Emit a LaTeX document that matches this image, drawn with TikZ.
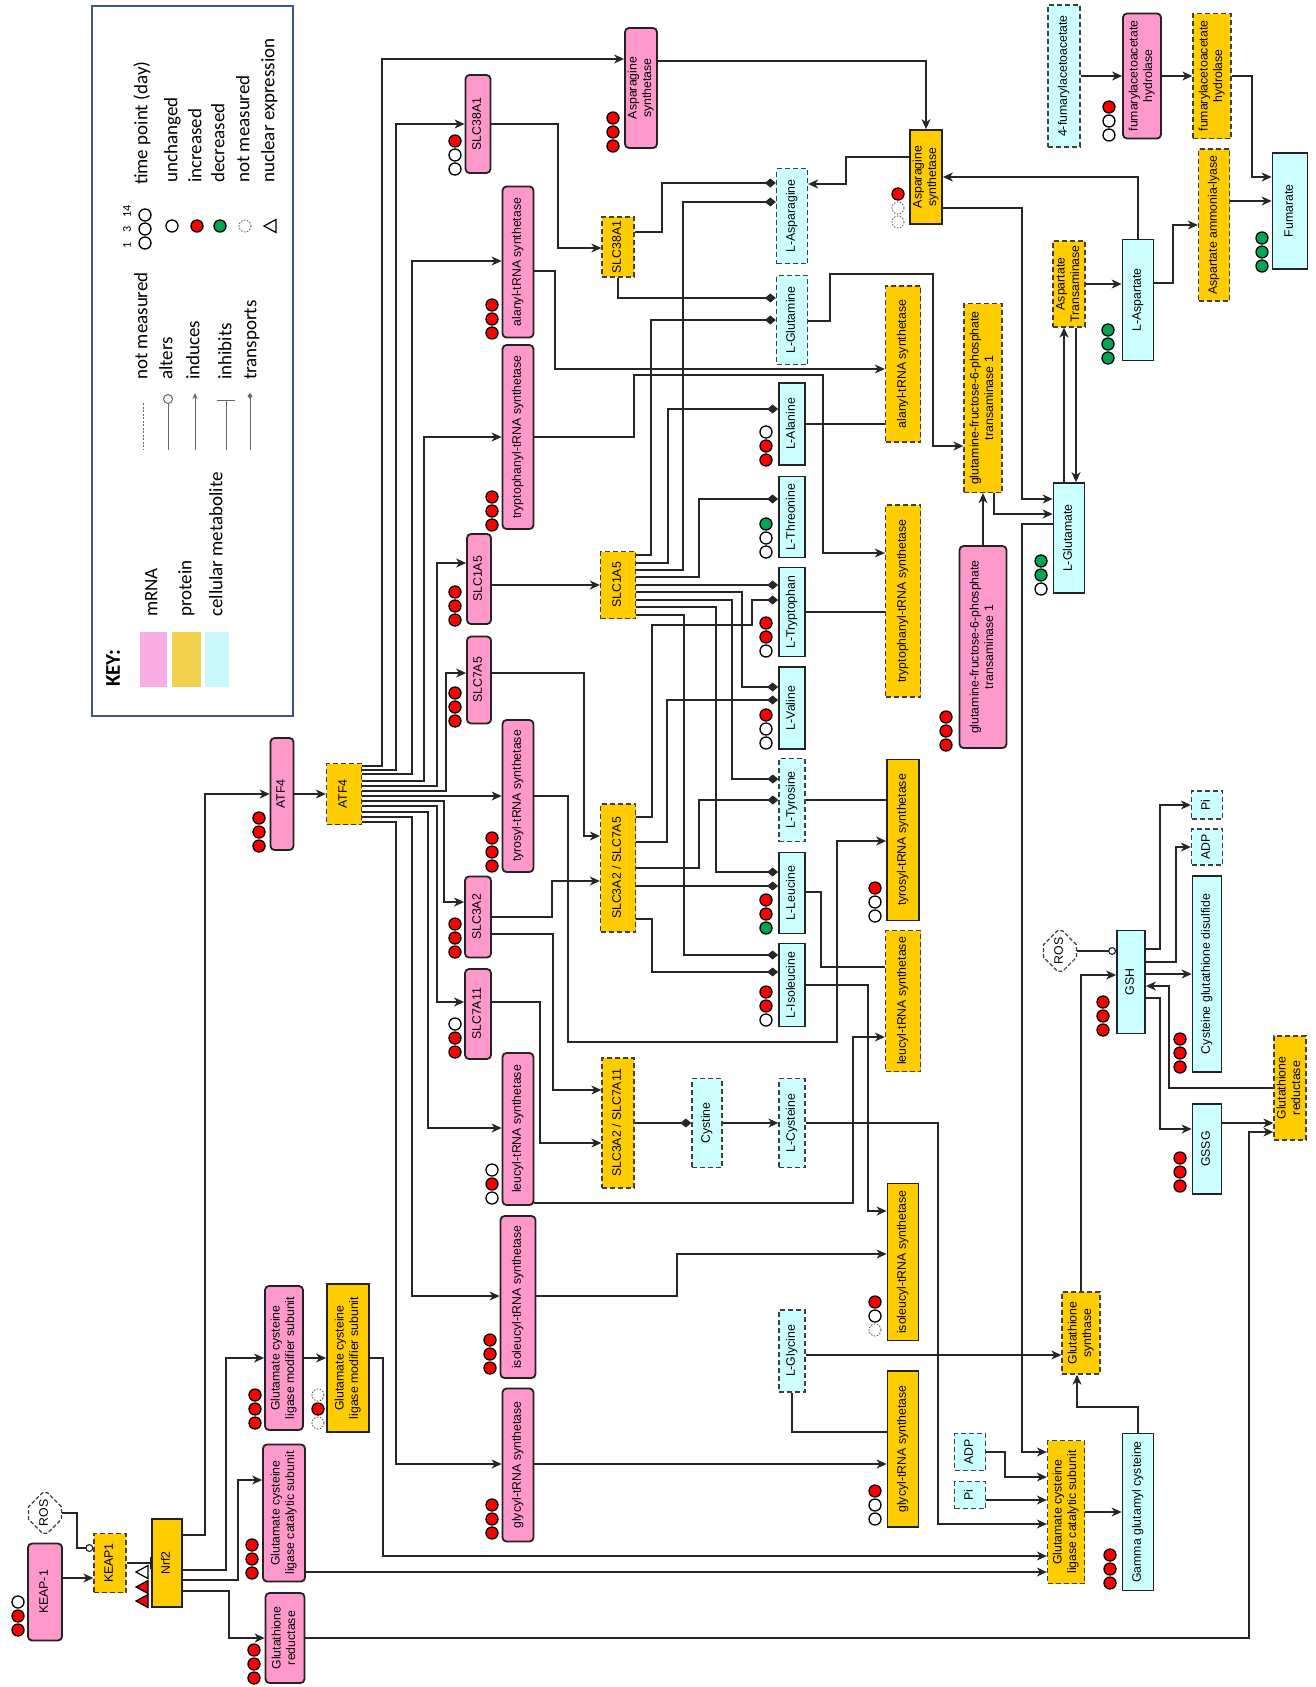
\documentclass[tikz,border=0pt]{standalone}
\usepackage{fontspec}
\setmainfont{Liberation Sans}
\newfontfamily\keyfont{Carlito}
\usetikzlibrary{arrows.meta,shapes.misc,shapes.geometric}
\definecolor{pk}{RGB}{255,153,204}
\definecolor{yl}{RGB}{255,204,0}
\definecolor{cy}{RGB}{204,255,255}
\definecolor{edgec}{RGB}{35,35,35}
\definecolor{keyblue}{RGB}{59,89,133}
\definecolor{dred}{RGB}{255,0,0}
\definecolor{dgreen}{RGB}{0,166,81}
\definecolor{swpk}{RGB}{248,174,226}
\definecolor{swyl}{RGB}{243,210,80}
\definecolor{swcy}{RGB}{200,248,248}
\newcommand\rtxt[1]{\rotatebox{90}{\begin{tabular}{@{}c@{}}#1\end{tabular}}}
\newcommand\tpt[5]{%
 \draw[dot#3] (#1,#2-14) circle[radius=6pt];
 \draw[dot#4] (#1,#2) circle[radius=6pt];
 \draw[dot#5] (#1,#2+14) circle[radius=6pt];}
\newcommand\ntri[3]{\filldraw[fill=#3, draw=black, line width=1.2pt, line join=miter] (#1-6,#2) -- (#1+6,#2-6.5) -- (#1+6,#2+6.5) -- cycle;}
\tikzset{
 box/.style={inner sep=0pt, draw=edgec, line width=1.8pt, font=\fontsize{12.3}{14.5}\selectfont},
 mrna/.style={box, fill=pk, rounded corners=4pt},
 prot/.style={box, fill=yl},
 protd/.style={box, fill=yl, dash pattern=on 5pt off 3pt, line width=1.3pt, draw=black!75},
 met/.style={box, fill=cy},
 metd/.style={box, fill=cy, dash pattern=on 5pt off 3pt, line width=1.3pt, draw=black!75},
 ros/.style={chamfered rectangle, chamfered rectangle xsep=7pt, chamfered rectangle ysep=7pt,
   draw=black!75, dash pattern=on 4pt off 2pt, line width=1.2pt, fill=white, inner sep=0pt,
   minimum width=33pt, minimum height=40pt, font=\fontsize{12.3}{14.5}\selectfont},
 dotr/.style={fill=dred, draw=black, line width=1.3pt},
 dotg/.style={fill=dgreen, draw=black, line width=1.3pt},
 doto/.style={fill=white, draw=black, line width=1.3pt},
 dotd/.style={fill=white, draw=black!70, line width=0.8pt, dash pattern=on 1.5pt off 1.5pt},
 conn/.style={line width=1.15pt, draw=black!85},
 ind/.style={conn, -{Stealth[length=10pt,width=9pt,inset=3pt]}},
 tra/.style={conn, -{Diamond[length=11pt,width=9pt]}},
 inh/.style={conn, -{Bar[width=12pt,line width=1.3pt]}},
 alt/.style={conn, -{Circle[open,length=8pt,width=8pt]}},
 keytxt/.style={inner sep=0pt, anchor=south, font=\keyfont\fontsize{19}{22}\selectfont},
}
\begin{document}
\begin{tikzpicture}[x=1pt,y=-1pt]
\useasboundingbox (0,0) rectangle (1316,1687);
\fill[white] (0,0) rectangle (1316,1687);

% ---------------- legend ----------------
\node[draw=keyblue, line width=1.5pt, minimum width=201pt, minimum height=710pt, inner sep=0pt] (keybox) at (192.5,361) {};
\node[inner sep=0pt, anchor=south, font=\keyfont\bfseries\fontsize{21}{24}\selectfont] (keyt) at (115,687) {\rtxt{KEY:}};
\fill[swpk] (140,632) rectangle (167,687);
\fill[swyl] (172,632) rectangle (201,687);
\fill[swcy] (205,632) rectangle (229,687);
\node[keytxt] (kmrna) at (153,617) {\rtxt{mRNA}};
\node[keytxt] (kprot) at (187,617) {\rtxt{protein}};
\node[keytxt] (kmet) at (218,617) {\rtxt{cellular metabolite}};
\node[keytxt] (knm) at (143,380) {\rtxt{not measured}};
\node[keytxt] (kalt) at (168,380) {\rtxt{alters}};
\node[keytxt] (kind) at (195,380) {\rtxt{induces}};
\node[keytxt] (kinh) at (227,380) {\rtxt{inhibits}};
\node[keytxt] (ktra) at (252,380) {\rtxt{transports}};
\draw[black!60, line width=1pt, dash pattern=on 2pt off 1.5pt] (143,403) -- (143,450);
\draw[black!60, line width=1pt, -{Circle[open,length=10pt,width=10pt]}] (168,450) -- (168,394);
\draw[black!60, line width=1pt, -{Stealth[length=6pt,width=5pt]}] (195,450) -- (195,393);
\draw[black!60, line width=1pt, -{Bar[width=18pt]}] (226,450) -- (226,400);
\draw[black!60, line width=1pt, -{Diamond[length=6pt,width=5pt]}] (250,450) -- (250,393);
\node[keytxt] (ktp) at (143,185) {\rtxt{time point (day)}};
\node[keytxt] (kun) at (173,183) {\rtxt{unchanged}};
\node[keytxt] (kinc) at (197,183) {\rtxt{increased}};
\node[keytxt] (kdec) at (220,183) {\rtxt{decreased}};
\node[keytxt] (knm2) at (245,183) {\rtxt{not measured}};
\node[keytxt] (knuc) at (270,183) {\rtxt{nuclear expression}};
\tpt{145}{229}{o}{o}{o}
\node[inner sep=0pt, font=\keyfont\fontsize{12}{14}\selectfont] (kl1) at (127,245) {\rotatebox{90}{1}};
\node[inner sep=0pt, font=\keyfont\fontsize{12}{14}\selectfont] (kl3) at (127,229) {\rotatebox{90}{3}};
\node[inner sep=0pt, font=\keyfont\fontsize{12}{14}\selectfont] (kl14) at (127,211) {\rotatebox{90}{14}};
\draw[doto] (172,226) circle[radius=6pt];
\draw[dotr] (197,226) circle[radius=6pt];
\draw[dotg] (220,226) circle[radius=6pt];
\draw[dotd] (245,226) circle[radius=6pt];
\ntri{270}{226}{white}

% ---------------- mRNA ----------------
\node[mrna, minimum width=34pt, minimum height=97pt] (keapm) at (45,1592) {\rtxt{KEAP-1}};
\node[mrna, minimum width=23pt, minimum height=112pt] (atf4m) at (282,794) {\rtxt{ATF4}};
\node[mrna, minimum width=32pt, minimum height=120pt] (asnsm) at (641,88) {\rtxt{Asparagine\\synthetase}};
\node[mrna, minimum width=25pt, minimum height=98pt] (slc38m) at (478,124) {\rtxt{SLC38A1}};
\node[mrna, minimum width=31pt, minimum height=151pt] (alam) at (518,262) {\rtxt{alanyl-tRNA synthetase}};
\node[mrna, minimum width=31pt, minimum height=184pt] (trpm) at (518,437) {\rtxt{tryptophanyl-tRNA synthetase}};
\node[mrna, minimum width=24pt, minimum height=90pt] (slc1a5m) at (479,579) {\rtxt{SLC1A5}};
\node[mrna, minimum width=24pt, minimum height=87pt] (slc7a5m) at (479,680) {\rtxt{SLC7A5}};
\node[mrna, minimum width=31pt, minimum height=152pt] (tyrm) at (518,796) {\rtxt{tyrosyl-tRNA synthetase}};
\node[mrna, minimum width=26pt, minimum height=81pt] (slc3a2m) at (478,917) {\rtxt{SLC3A2}};
\node[mrna, minimum width=26pt, minimum height=90pt] (slc7a11m) at (478,1014) {\rtxt{SLC7A11}};
\node[mrna, minimum width=31pt, minimum height=152pt] (leum) at (518,1129) {\rtxt{leucyl-tRNA synthetase}};
\node[mrna, minimum width=35pt, minimum height=162pt] (ilem) at (518,1297) {\rtxt{isoleucyl-tRNA synthetase}};
\node[mrna, minimum width=31pt, minimum height=153pt] (glym) at (518,1465) {\rtxt{glycyl-tRNA synthetase}};
\node[mrna, minimum width=38pt, minimum height=144pt] (gclmm) at (284,1358) {\rtxt{Glutamate cysteine\\ligase modifier subunit}};
\node[mrna, minimum width=42pt, minimum height=137pt] (gclcm) at (284,1513) {\rtxt{Glutamate cysteine\\ligase catalytic subunit}};
\node[mrna, minimum width=39pt, minimum height=90pt] (grm) at (285,1638) {\rtxt{Glutathione\\reductase}};
\node[mrna, minimum width=47pt, minimum height=202pt] (gfptm) at (983,647) {\rtxt{glutamine-fructose-6-phosphate\\transaminase 1}};
\node[mrna, minimum width=38pt, minimum height=125pt] (fahm) at (1142,76) {\rtxt{fumarylacetoacetate\\hydrolase}};

% ---------------- proteins ----------------
\node[prot, minimum width=30pt, minimum height=88pt] (nrf2) at (167,1563) {\rtxt{Nrf2}};
\node[prot, minimum width=42pt, minimum height=148pt] (gclmp) at (348,1358) {\rtxt{Glutamate cysteine\\ligase modifier subunit}};
\node[prot, minimum width=32pt, minimum height=94pt] (asnsp) at (926,177) {\rtxt{Asparagine\\synthetase}};
\node[prot, minimum width=32pt, minimum height=161pt] (tyrp) at (903,840) {\rtxt{tyrosyl-tRNA synthetase}};
\node[prot, minimum width=31pt, minimum height=157pt] (ilep) at (903,1262) {\rtxt{isoleucyl-tRNA synthetase}};
\node[prot, minimum width=31pt, minimum height=156pt] (glyp) at (903,1449) {\rtxt{glycyl-tRNA synthetase}};

\node[protd, minimum width=32pt, minimum height=59pt] (keap1) at (110,1563) {\rtxt{KEAP1}};
\node[protd, minimum width=35pt, minimum height=61pt] (atf4p) at (344,794) {\rtxt{ATF4}};
\node[protd, minimum width=32pt, minimum height=60pt] (slc38p) at (618,247) {\rtxt{SLC38A1}};
\node[protd, minimum width=35pt, minimum height=67pt] (slc1a5p) at (618,585) {\rtxt{SLC1A5}};
\node[protd, minimum width=35pt, minimum height=128pt] (slc7a5p) at (618,868) {\rtxt{SLC3A2 / SLC7A5}};
\node[protd, minimum width=32pt, minimum height=130pt] (slc7a11p) at (618,1123) {\rtxt{SLC3A2 / SLC7A11}};
\node[protd, minimum width=35pt, minimum height=156pt] (alap) at (903,364) {\rtxt{alanyl-tRNA synthetase}};
\node[protd, minimum width=35pt, minimum height=192pt] (trpp) at (903,601) {\rtxt{tryptophanyl-tRNA synthetase}};
\node[protd, minimum width=35pt, minimum height=141pt] (leup) at (903,1001) {\rtxt{leucyl-tRNA synthetase}};
\node[protd, minimum width=38pt, minimum height=189pt] (gfptp) at (983,398) {\rtxt{glutamine-fructose-6-phosphate\\transaminase 1}};
\node[protd, minimum width=32pt, minimum height=86pt] (astp) at (1069,284) {\rtxt{Aspartate\\Transaminase}};
\node[protd, minimum width=31pt, minimum height=152pt] (aalp) at (1214,225) {\rtxt{Aspartate ammonia-lyase}};
\node[protd, minimum width=38pt, minimum height=125pt] (fahp) at (1212,76) {\rtxt{fumarylacetoacetate\\hydrolase}};
\node[protd, minimum width=38pt, minimum height=82pt] (gssp) at (1081,1333) {\rtxt{Glutathione\\synthase}};
\node[protd, minimum width=37pt, minimum height=143pt] (gclcp) at (1066,1512) {\rtxt{Glutamate cysteine\\ligase catalytic subunit}};
\node[protd, minimum width=32pt, minimum height=104pt] (grp) at (1290,1088) {\rtxt{Glutathione\\reductase}};

% ---------------- metabolites ----------------
\node[met, minimum width=26pt, minimum height=82pt] (ala) at (792,424) {\rtxt{L-Alanine}};
\node[met, minimum width=26pt, minimum height=81pt] (thr) at (792,517) {\rtxt{L-Threonine}};
\node[met, minimum width=26pt, minimum height=89pt] (trp) at (792,612) {\rtxt{L-Tryptophan}};
\node[met, minimum width=26pt, minimum height=82pt] (val) at (792,708) {\rtxt{L-Valine}};
\node[met, minimum width=26pt, minimum height=81pt] (leu) at (792,893) {\rtxt{L-Leucine}};
\node[met, minimum width=26pt, minimum height=83pt] (ile) at (792,985) {\rtxt{L-Isoleucine}};
\node[met, minimum width=31pt, minimum height=121pt] (asp) at (1138,300) {\rtxt{L-Aspartate}};
\node[met, minimum width=31pt, minimum height=110pt] (glu) at (1069,538) {\rtxt{L-Glutamate}};
\node[met, minimum width=35pt, minimum height=116pt] (fum) at (1290,211) {\rtxt{Fumarate}};
\node[met, minimum width=28pt, minimum height=103pt] (gsh) at (1131,982) {\rtxt{GSH}};
\node[met, minimum width=29pt, minimum height=196pt] (cgsd) at (1207,974) {\rtxt{Cysteine glutathione disulfide}};
\node[met, minimum width=29pt, minimum height=90pt] (gssg) at (1207,1149) {\rtxt{GSSG}};
\node[met, minimum width=31pt, minimum height=157pt] (ggc) at (1138,1512) {\rtxt{Gamma glutamyl cysteine}};

\node[metd, minimum width=31pt, minimum height=95pt] (asn) at (792,216) {\rtxt{L-Asparagine}};
\node[metd, minimum width=31pt, minimum height=89pt] (gln) at (792,320) {\rtxt{L-Glutamine}};
\node[metd, minimum width=26pt, minimum height=83pt] (tyr) at (792,800) {\rtxt{L-Tyrosine}};
\node[metd, minimum width=30pt, minimum height=89pt] (cys2) at (707,1123) {\rtxt{Cystine}};
\node[metd, minimum width=26pt, minimum height=89pt] (cys) at (792,1123) {\rtxt{L-Cysteine}};
\node[metd, minimum width=26pt, minimum height=82pt] (gly) at (792,1351) {\rtxt{L-Glycine}};
\node[metd, minimum width=32pt, minimum height=142pt] (faa) at (1064,76) {\rtxt{4-fumarylacetoacetate}};
\node[metd, minimum width=31pt, minimum height=36pt] (adp1) at (1207,847) {\rtxt{ADP}};
\node[metd, minimum width=31pt, minimum height=28pt] (pi1) at (1207,805) {\rtxt{Pi}};
\node[metd, minimum width=31pt, minimum height=37pt] (adp2) at (970,1452) {\rtxt{ADP}};
\node[metd, minimum width=31pt, minimum height=27pt] (pi2) at (970,1495) {\rtxt{Pi}};

\node[ros] (ros1) at (45,1513) {\rtxt{ROS}};
\node[ros] (ros2) at (1060,951) {\rtxt{ROS}};

% ---------------- time-point dots ----------------
\tpt{18}{1616}{o}{r}{r}
\tpt{259}{832}{r}{r}{r}
\tpt{613}{132}{r}{r}{r}
\tpt{455}{155}{r}{o}{o}
\tpt{492}{319}{r}{r}{r}
\tpt{492}{511}{r}{r}{r}
\tpt{455}{606}{r}{r}{r}
\tpt{455}{707}{r}{r}{r}
\tpt{492}{852}{r}{r}{r}
\tpt{455}{938}{r}{r}{r}
\tpt{455}{1038}{o}{r}{r}
\tpt{492}{1184}{o}{r}{o}
\tpt{490}{1354}{r}{r}{r}
\tpt{492}{1519}{r}{r}{r}
\tpt{255}{1409}{r}{r}{r}
\tpt{252}{1559}{r}{r}{r}
\tpt{254}{1664}{r}{r}{r}
\tpt{946}{731}{r}{r}{r}
\tpt{1109}{121}{r}{o}{o}
\tpt{318}{1409}{d}{r}{d}
\tpt{898}{208}{r}{d}{d}
\tpt{875}{902}{r}{o}{o}
\tpt{875}{1316}{r}{o}{d}
\tpt{875}{1505}{r}{o}{o}
\tpt{766}{446}{o}{r}{r}
\tpt{766}{538}{g}{o}{o}
\tpt{766}{637}{r}{r}{o}
\tpt{766}{729}{r}{o}{o}
\tpt{766}{914}{r}{r}{g}
\tpt{766}{1006}{r}{r}{o}
\tpt{1108}{344}{g}{g}{g}
\tpt{1041}{575}{g}{g}{o}
\tpt{1262}{252}{g}{g}{g}
\tpt{1103}{1016}{r}{r}{r}
\tpt{1180}{1053}{r}{r}{r}
\tpt{1180}{1172}{r}{r}{r}
\tpt{1110}{1569}{r}{r}{r}
\ntri{142}{1572}{white}
\ntri{142}{1587}{dred}
\ntri{142}{1601}{dred}

% ---------------- connectors ----------------
\draw[ind] (keapm.east |- 0,1578) -- (keap1.west |- 0,1578);
\draw[inh] (keap1.east |- 0,1563) -- (nrf2.west |- 0,1563);
\draw[alt] (ros1.east) -- (77,1513) |- (keap1.west |- 0,1548);
\draw[ind] (nrf2.east |- 0,1535) -- (205,1535) |- (atf4m.west);
\draw[ind] (nrf2.east |- 0,1570) -- (226,1570) |- (gclmm.west);
\draw[ind] (nrf2.east |- 0,1580) -- (238,1580) |- (gclcm.west |- 0,1480);
\draw[ind] (nrf2.east |- 0,1591) -- (229,1591) |- (grm.west);
\draw[ind] (atf4m.east) -- (atf4p.west);
\draw[ind] (gclmm.east) -- (gclmp.west);
\draw[ind] (gclmp.east) -- (383,1358) |- (gclcp.west |- 0,1556);
\draw[ind] (gclcm.east |- 0,1572) -- (gclcp.west |- 0,1572);
\draw[ind] (grm.east) -- (1249,1638) |- (grp.west |- 0,1132);

% ATF4 targets
\draw[ind] (atf4p.east |- 0,766) -- (382,766) |- (asnsm.west |- 0,59);
\draw[ind] (atf4p.east |- 0,770) -- (396,770) |- (slc38m.west);
\draw[ind] (atf4p.east |- 0,774) -- (412,774) |- (alam.west |- 0,261);
\draw[ind] (atf4p.east |- 0,781) -- (424,781) |- (trpm.west);
\draw[ind] (atf4p.east |- 0,786) -- (437,786) |- (slc1a5m.west |- 0,563);
\draw[ind] (atf4p.east |- 0,791) -- (446,791) |- (slc7a5m.west |- 0,673);
\draw[ind] (atf4p.east |- 0,796) -- (tyrm.west |- 0,796);
\draw[ind] (atf4p.east |- 0,801) -- (444,801) |- (slc3a2m.west |- 0,902);
\draw[ind] (atf4p.east |- 0,806) -- (437,806) |- (slc7a11m.west |- 0,1002);
\draw[ind] (atf4p.east |- 0,812) -- (428,812) |- (leum.west |- 0,1128);
\draw[ind] (atf4p.east |- 0,817) -- (412,817) |- (ilem.west |- 0,1296);
\draw[ind] (atf4p.east |- 0,822) -- (396,822) |- (glym.west |- 0,1464);

% mRNA -> protein
\draw[ind] (asnsm.east |- 0,61) -- (926,61) -- (asnsp.north);
\draw[ind] (slc38m.east) -- (558,124) |- (slc38p.west |- 0,248);
\draw[ind] (alam.east |- 0,271) -- (555,271) |- (alap.west |- 0,369);
\draw[ind] (trpm.east) -- (634,437) -- (634,375) -- (823,375) |- (trpp.west |- 0,553);
\draw[ind] (slc1a5m.east |- 0,585) -- (slc1a5p.west);
\draw[ind] (slc7a5m.east |- 0,673) -- (584,673) |- (slc7a5p.west |- 0,836);
\draw[ind] (tyrm.east) -- (568,796) -- (568,1042) -- (837,1042) |- (tyrp.west |- 0,841);
\draw[ind] (slc3a2m.east |- 0,917) -- (552,917) |- (slc7a5p.west |- 0,881);
\draw[ind] (slc3a2m.east |- 0,934) -- (553,934) |- (slc7a11p.west |- 0,1090);
\draw[ind] (slc7a11m.east |- 0,1002) -- (540,1002) |- (slc7a11p.west |- 0,1143);
\draw[ind] (leum.east |- 0,1203) -- (853,1203) |- (leup.west |- 0,1037);
\draw[ind] (ilem.east |- 0,1296) -- (677,1296) |- (ilep.west |- 0,1254);
\draw[ind] (glym.east |- 0,1464) -- (glyp.west |- 0,1464);
\draw[ind] (gfptm.north) -- (gfptp.south);
\draw[ind] (faa.east) -- (fahm.west);
\draw[ind] (fahm.east) -- (fahp.west);

% transporters
\draw[tra] (slc38p.east |- 0,232) -- (662,232) |- (asn.west |- 0,183);
\draw[tra] (slc38p.south) |- (gln.west |- 0,298);
\draw[tra] (slc1a5p.east |- 0,555) -- (651,555) |- (gln.west |- 0,320);
\draw[tra] (slc1a5p.east |- 0,563) -- (668,563) |- (ala.west |- 0,409);
\draw[tra] (slc1a5p.east |- 0,570) -- (683,570) |- (asn.west |- 0,202);
\draw[tra] (slc1a5p.east |- 0,577) -- (699,577) |- (thr.west |- 0,499);
\draw[tra] (slc1a5p.east |- 0,585) -- (trp.west |- 0,585);
\draw[tra] (slc1a5p.east |- 0,592) -- (742,592) |- (val.west |- 0,687);
\draw[tra] (slc1a5p.east |- 0,600) -- (732,600) |- (tyr.west |- 0,779);
\draw[tra] (slc1a5p.east |- 0,607) -- (716,607) |- (leu.west |- 0,872);
\draw[tra] (slc1a5p.east |- 0,615) -- (684,615) |- (ile.west |- 0,955);
\draw[tra] (slc7a5p.east |- 0,817) -- (652,817) -- (652,625) -- (752,625) |- (trp.west |- 0,600);
\draw[tra] (slc7a5p.east |- 0,842) -- (667,842) |- (val.west |- 0,700);
\draw[tra] (slc7a5p.east |- 0,868) -- (699,868) |- (tyr.west |- 0,800);
\draw[tra] (slc7a5p.east |- 0,886) -- (leu.west |- 0,886);
\draw[tra] (slc7a5p.east |- 0,919) -- (652,919) |- (ile.west |- 0,972);
\draw[tra] (slc7a11p.east) -- (cys2.west);

% metabolism
\draw[ind] (cys2.east) -- (cys.west);
\draw[ind] (asnsp.west |- 0,157) -- (846,157) |- (asn.east |- 0,184);
\draw[ind] (asp.north) |- (asnsp.east);
\draw[ind] (asnsp.east |- 0,208) -- (1022,208) |- (glu.west |- 0,499);
\draw[ind] (gln.east |- 0,321) -- (830,321) -- (830,274) -- (933,274) |- (gfptp.west |- 0,446);
\draw[ind] (gfptp.south -| 994,0) |- (glu.west |- 0,514);
\draw[ind] (glu.north -| 1064,0) -- (astp.south -| 1064,0);
\draw[ind] (astp.south -| 1076,0) -- (glu.north -| 1076,0);
\draw[ind] (astp.east |- 0,284) -- (asp.west |- 0,284);
\draw[ind] (asp.east |- 0,283) -- (1173,283) |- (aalp.west |- 0,225);
\draw[ind] (aalp.east |- 0,201) -- (fum.west |- 0,201);
\draw[ind] (fahp.east) -- (1252,76) |- (fum.west |- 0,177);
\draw[conn] (ala.east) -- (alap.west |- 0,424);
\draw[conn] (trp.east) -- (trpp.west |- 0,612);
\draw[conn] (tyr.east) -- (tyrp.west |- 0,800);
\draw[conn] (leu.east |- 0,892) -- (821,892) |- (leup.west |- 0,967);
\draw[ind] (ile.east) -- (868,985) |- (ilep.west |- 0,1211);
\draw[ind] (cys.east) -- (938,1123) |- (gclcp.west |- 0,1524);
\draw[ind] (glu.west |- 0,524) -- (1022,524) |- (gclcp.west |- 0,1452);
\draw[ind] (adp2.east) -- (1005,1452) |- (gclcp.west |- 0,1477);
\draw[ind] (pi2.east |- 0,1500) -- (gclcp.west |- 0,1500);
\draw[ind] (gclcp.east) -- (ggc.west);
\draw[ind] (ggc.north) |- (1077,1407) -- (gssp.south -| 1077,0);
\draw[ind] (gly.east |- 0,1355) -- (gssp.west |- 0,1355);
\draw[conn] (gly.south) |- (glyp.west |- 0,1432);
\draw[ind] (gssp.north) |- (gsh.west |- 0,975);
\draw[alt] (ros2.east) -- (gsh.west |- 0,951);
\draw[ind] (gsh.east |- 0,949) -- (1160,949) |- (pi1.west);
\draw[ind] (gsh.east |- 0,962) -- (1176,962) |- (adp1.west);
\draw[ind] (gsh.east |- 0,974) -- (cgsd.west |- 0,974);
\draw[ind] (grp.west) -- (1169,1088) |- (gsh.east |- 0,986);
\draw[ind] (gsh.east |- 0,998) -- (1160,998) |- (gssg.west |- 0,1129);
\draw[ind] (gssg.east |- 0,1123) -- (grp.west |- 0,1123);
\end{tikzpicture}
\end{document}
